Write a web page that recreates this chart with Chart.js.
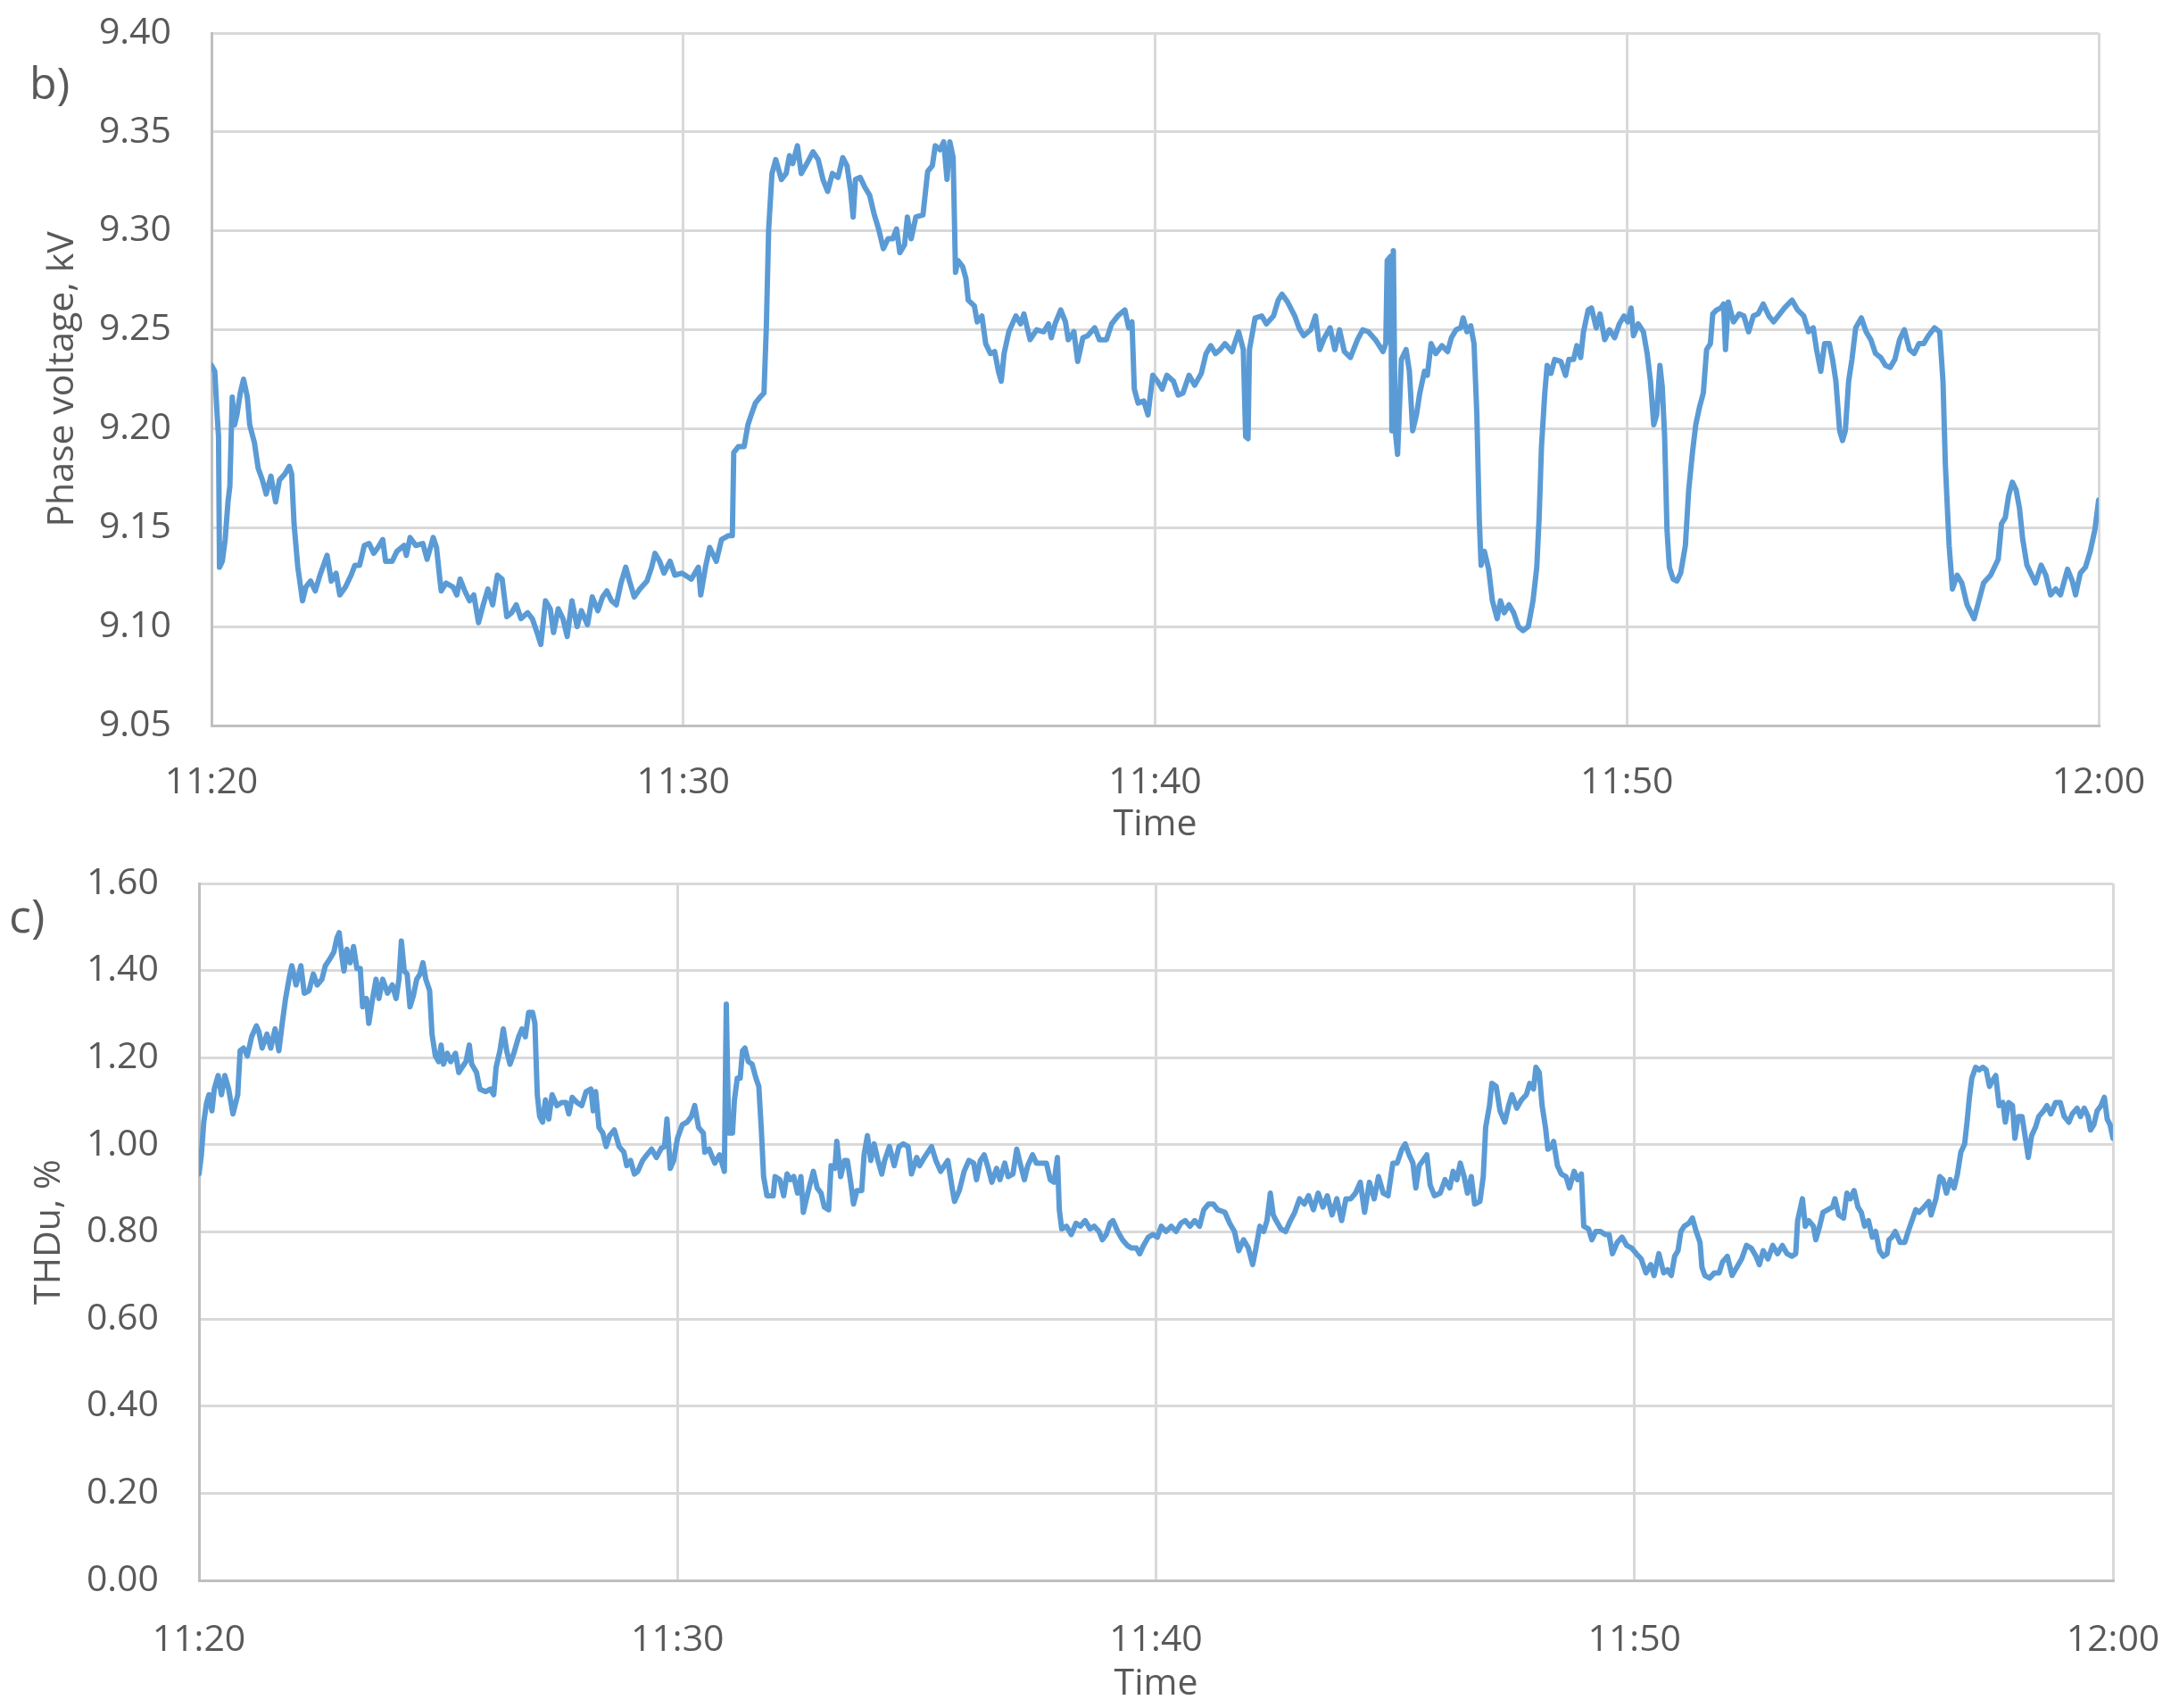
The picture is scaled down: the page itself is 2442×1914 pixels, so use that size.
<!DOCTYPE html>
<html>
<head>
<meta charset="utf-8">
<script src="https://cdn.jsdelivr.net/npm/chart.js@4/dist/chart.umd.min.js"></script>
<style>
  html, body { margin: 0; padding: 0; background: #fff; }
  #wrap { position: relative; width: 2442px; height: 1914px; }
  canvas { position: absolute; left: 0; }
</style>
</head>
<body>
<div id="wrap">
  <canvas id="voltChart" width="2442" height="957" style="top:0"></canvas>
  <canvas id="thdChart" width="2442" height="957" style="top:957px"></canvas>
</div>
<script>
// minutes after 11:20 -> value
const timeLabels = ['11:20', '11:30', '11:40', '11:50', '12:00'];

const voltage = [
  [0, 9.232], [0.07, 9.229], [0.12, 9.207], [0.15, 9.196], [0.17, 9.130], [0.23, 9.133], [0.29, 9.144],
  [0.35, 9.163], [0.39, 9.171], [0.44, 9.216], [0.49, 9.202], [0.54, 9.207], [0.61, 9.218], [0.68, 9.225],
  [0.76, 9.216], [0.81, 9.202], [0.91, 9.193], [0.99, 9.180], [1.08, 9.174], [1.16, 9.167], [1.26, 9.176],
  [1.36, 9.163], [1.44, 9.174], [1.55, 9.177], [1.65, 9.181], [1.70, 9.177], [1.75, 9.152], [1.83, 9.130],
  [1.93, 9.113], [2.00, 9.120], [2.10, 9.123], [2.20, 9.118], [2.30, 9.126], [2.45, 9.136], [2.54, 9.123],
  [2.64, 9.127], [2.72, 9.116], [2.84, 9.120], [2.96, 9.126], [3.04, 9.131], [3.14, 9.131], [3.24, 9.141],
  [3.34, 9.142], [3.44, 9.137], [3.53, 9.140], [3.63, 9.144], [3.69, 9.133], [3.83, 9.133], [3.93, 9.138],
  [4.08, 9.141], [4.13, 9.136], [4.21, 9.145], [4.33, 9.141], [4.48, 9.142], [4.57, 9.134], [4.70, 9.145],
  [4.77, 9.140], [4.84, 9.124], [4.87, 9.118], [4.97, 9.122], [5.12, 9.120], [5.20, 9.116], [5.27, 9.124],
  [5.37, 9.118], [5.47, 9.113], [5.56, 9.116], [5.66, 9.102], [5.76, 9.111], [5.86, 9.119], [5.96, 9.111],
  [6.06, 9.126], [6.16, 9.124], [6.26, 9.105], [6.36, 9.107], [6.46, 9.111], [6.56, 9.104], [6.70, 9.107],
  [6.80, 9.104], [6.90, 9.097], [6.98, 9.091], [7.08, 9.113], [7.18, 9.109], [7.25, 9.097], [7.35, 9.109],
  [7.45, 9.104], [7.54, 9.095], [7.64, 9.113], [7.75, 9.100], [7.84, 9.108], [7.97, 9.101], [8.07, 9.115],
  [8.19, 9.108], [8.29, 9.115], [8.38, 9.118], [8.48, 9.113], [8.58, 9.111], [8.68, 9.122], [8.78, 9.130],
  [8.86, 9.123], [8.96, 9.115], [9.08, 9.119], [9.23, 9.123], [9.33, 9.130], [9.40, 9.137], [9.50, 9.133],
  [9.59, 9.127], [9.72, 9.133], [9.82, 9.126], [9.97, 9.127], [10.17, 9.124], [10.32, 9.130], [10.37, 9.116],
  [10.47, 9.130], [10.56, 9.140], [10.70, 9.133], [10.81, 9.144], [10.96, 9.146], [11.04, 9.146], [11.07, 9.188],
  [11.17, 9.191], [11.29, 9.191], [11.37, 9.202], [11.44, 9.207], [11.53, 9.213], [11.63, 9.216], [11.71, 9.218],
  [11.76, 9.251], [11.81, 9.301], [11.88, 9.329], [11.96, 9.336], [12.08, 9.326], [12.18, 9.329], [12.25, 9.338],
  [12.32, 9.334], [12.42, 9.343], [12.50, 9.329], [12.62, 9.334], [12.75, 9.340], [12.86, 9.336], [12.96, 9.326],
  [13.06, 9.320], [13.16, 9.329], [13.28, 9.327], [13.38, 9.337], [13.47, 9.333], [13.55, 9.320], [13.60, 9.307],
  [13.65, 9.326], [13.75, 9.327], [13.85, 9.322], [13.95, 9.318], [14.05, 9.308], [14.14, 9.301], [14.24, 9.291],
  [14.34, 9.296], [14.44, 9.296], [14.52, 9.301], [14.59, 9.289], [14.69, 9.293], [14.75, 9.307], [14.83, 9.296],
  [14.93, 9.307], [15.08, 9.308], [15.18, 9.330], [15.28, 9.333], [15.34, 9.343], [15.44, 9.341], [15.52, 9.345],
  [15.59, 9.326], [15.65, 9.345], [15.72, 9.337], [15.77, 9.279], [15.82, 9.285], [15.92, 9.282], [15.99, 9.276],
  [16.04, 9.265], [16.17, 9.262], [16.23, 9.254], [16.33, 9.257], [16.41, 9.243], [16.51, 9.238], [16.60, 9.239],
  [16.68, 9.229], [16.74, 9.224], [16.80, 9.238], [16.90, 9.249], [17.05, 9.257], [17.15, 9.253], [17.22, 9.258],
  [17.35, 9.245], [17.49, 9.250], [17.64, 9.249], [17.74, 9.253], [17.80, 9.246], [17.88, 9.253], [18.00, 9.260],
  [18.10, 9.254], [18.16, 9.245], [18.28, 9.249], [18.36, 9.234], [18.47, 9.246], [18.57, 9.247], [18.72, 9.251],
  [18.82, 9.245], [18.97, 9.245], [19.08, 9.253], [19.21, 9.257], [19.36, 9.260], [19.44, 9.251], [19.51, 9.254],
  [19.56, 9.220], [19.64, 9.213], [19.76, 9.214], [19.85, 9.207], [19.95, 9.227], [20.05, 9.224], [20.15, 9.220],
  [20.25, 9.227], [20.39, 9.224], [20.49, 9.217], [20.59, 9.218], [20.72, 9.227], [20.84, 9.222], [20.98, 9.228],
  [21.08, 9.238], [21.18, 9.242], [21.28, 9.238], [21.38, 9.240], [21.48, 9.243], [21.63, 9.239], [21.77, 9.249],
  [21.87, 9.240], [21.92, 9.196], [21.97, 9.195], [22.00, 9.240], [22.12, 9.256], [22.26, 9.257], [22.36, 9.253],
  [22.51, 9.257], [22.61, 9.265], [22.69, 9.268], [22.81, 9.264], [22.96, 9.257], [23.05, 9.251], [23.15, 9.247],
  [23.30, 9.250], [23.40, 9.257], [23.49, 9.240], [23.59, 9.246], [23.71, 9.251], [23.81, 9.240], [23.91, 9.250],
  [24.01, 9.239], [24.14, 9.236], [24.29, 9.245], [24.40, 9.250], [24.52, 9.249], [24.67, 9.245], [24.83, 9.239],
  [24.89, 9.243], [24.92, 9.285], [24.99, 9.287], [25.02, 9.199], [25.05, 9.290], [25.09, 9.199], [25.14, 9.187],
  [25.22, 9.235], [25.32, 9.240], [25.39, 9.229], [25.46, 9.199], [25.54, 9.207], [25.61, 9.218], [25.71, 9.229],
  [25.77, 9.227], [25.85, 9.243], [25.95, 9.238], [26.08, 9.242], [26.20, 9.239], [26.28, 9.246], [26.38, 9.250],
  [26.48, 9.251], [26.53, 9.256], [26.61, 9.249], [26.69, 9.252], [26.76, 9.243], [26.82, 9.207], [26.87, 9.155],
  [26.91, 9.131], [26.98, 9.138], [27.07, 9.129], [27.15, 9.113], [27.25, 9.104], [27.32, 9.113], [27.40, 9.107],
  [27.50, 9.111], [27.60, 9.107], [27.70, 9.100], [27.80, 9.098], [27.91, 9.100], [28.01, 9.113], [28.09, 9.130],
  [28.14, 9.155], [28.19, 9.191], [28.26, 9.218], [28.31, 9.232], [28.39, 9.228], [28.47, 9.235], [28.60, 9.234],
  [28.70, 9.227], [28.77, 9.235], [28.87, 9.235], [28.94, 9.242], [29.02, 9.236], [29.08, 9.249], [29.18, 9.260],
  [29.25, 9.261], [29.35, 9.251], [29.43, 9.258], [29.53, 9.245], [29.63, 9.250], [29.74, 9.246], [29.84, 9.253],
  [29.94, 9.257], [30.02, 9.254], [30.09, 9.261], [30.14, 9.247], [30.24, 9.253], [30.35, 9.249], [30.43, 9.238],
  [30.50, 9.224], [30.57, 9.202], [30.63, 9.207], [30.70, 9.232], [30.75, 9.221], [30.80, 9.196], [30.85, 9.149],
  [30.90, 9.130], [30.98, 9.124], [31.06, 9.123], [31.14, 9.127], [31.24, 9.141], [31.31, 9.169], [31.39, 9.188],
  [31.46, 9.202], [31.54, 9.211], [31.62, 9.218], [31.69, 9.240], [31.77, 9.243], [31.82, 9.258], [31.90, 9.260],
  [31.99, 9.261], [32.05, 9.263], [32.09, 9.240], [32.15, 9.264], [32.26, 9.254], [32.38, 9.258], [32.48, 9.257],
  [32.58, 9.249], [32.68, 9.257], [32.78, 9.258], [32.89, 9.263], [33.01, 9.257], [33.11, 9.254], [33.24, 9.258],
  [33.34, 9.261], [33.50, 9.265], [33.62, 9.260], [33.75, 9.257], [33.85, 9.249], [33.95, 9.251], [34.02, 9.240],
  [34.11, 9.229], [34.19, 9.243], [34.29, 9.243], [34.36, 9.235], [34.43, 9.224], [34.51, 9.199], [34.57, 9.194],
  [34.63, 9.199], [34.70, 9.224], [34.77, 9.235], [34.85, 9.251], [34.97, 9.256], [35.07, 9.249], [35.17, 9.245],
  [35.27, 9.238], [35.38, 9.236], [35.48, 9.232], [35.58, 9.231], [35.68, 9.235], [35.78, 9.245], [35.88, 9.250],
  [35.99, 9.240], [36.09, 9.238], [36.19, 9.243], [36.29, 9.243], [36.39, 9.247], [36.52, 9.251], [36.63, 9.249],
  [36.70, 9.224], [36.75, 9.182], [36.83, 9.141], [36.90, 9.119], [37.00, 9.126], [37.10, 9.122], [37.21, 9.111],
  [37.36, 9.104], [37.46, 9.113], [37.56, 9.122], [37.71, 9.126], [37.87, 9.134], [37.94, 9.152], [38.02, 9.155],
  [38.09, 9.166], [38.17, 9.173], [38.25, 9.169], [38.32, 9.160], [38.39, 9.144], [38.48, 9.131], [38.58, 9.126],
  [38.66, 9.122], [38.78, 9.131], [38.88, 9.126], [38.98, 9.116], [39.09, 9.119], [39.19, 9.116], [39.34, 9.129],
  [39.44, 9.123], [39.51, 9.116], [39.61, 9.127], [39.72, 9.130], [39.82, 9.138], [39.92, 9.149], [40.00, 9.164]
];

const thdu = [
  [0, 0.933], [0.05, 0.977], [0.10, 1.052], [0.16, 1.097], [0.21, 1.115], [0.27, 1.078], [0.32, 1.128],
  [0.40, 1.159], [0.47, 1.115], [0.54, 1.159], [0.62, 1.128], [0.71, 1.071], [0.81, 1.115], [0.86, 1.216],
  [0.93, 1.222], [1.01, 1.204], [1.10, 1.248], [1.20, 1.273], [1.25, 1.260], [1.32, 1.222], [1.42, 1.254],
  [1.50, 1.222], [1.59, 1.266], [1.67, 1.216], [1.74, 1.279], [1.81, 1.336], [1.89, 1.386], [1.94, 1.411],
  [2.03, 1.367], [2.13, 1.411], [2.20, 1.348], [2.30, 1.354], [2.39, 1.392], [2.47, 1.367], [2.57, 1.380],
  [2.64, 1.411], [2.72, 1.424], [2.82, 1.443], [2.88, 1.474], [2.93, 1.487], [2.99, 1.430], [3.03, 1.399],
  [3.09, 1.449], [3.16, 1.418], [3.23, 1.455], [3.30, 1.405], [3.37, 1.405], [3.42, 1.317], [3.50, 1.336],
  [3.55, 1.279], [3.62, 1.330], [3.70, 1.380], [3.76, 1.336], [3.84, 1.380], [3.94, 1.348], [4.04, 1.367],
  [4.12, 1.336], [4.18, 1.380], [4.23, 1.468], [4.29, 1.399], [4.35, 1.392], [4.41, 1.317], [4.48, 1.342],
  [4.55, 1.380], [4.62, 1.392], [4.68, 1.418], [4.74, 1.380], [4.82, 1.354], [4.87, 1.254], [4.94, 1.204],
  [5.01, 1.191], [5.06, 1.229], [5.11, 1.185], [5.19, 1.210], [5.26, 1.191], [5.36, 1.210], [5.43, 1.166],
  [5.50, 1.178], [5.58, 1.191], [5.65, 1.229], [5.70, 1.185], [5.80, 1.166], [5.87, 1.128], [5.99, 1.122],
  [6.09, 1.128], [6.16, 1.115], [6.21, 1.178], [6.29, 1.216], [6.36, 1.266], [6.43, 1.216], [6.50, 1.185],
  [6.58, 1.210], [6.68, 1.248], [6.75, 1.266], [6.82, 1.248], [6.89, 1.304], [6.97, 1.304], [7.02, 1.279],
  [7.07, 1.115], [7.12, 1.065], [7.18, 1.052], [7.24, 1.103], [7.31, 1.059], [7.38, 1.115], [7.48, 1.090],
  [7.58, 1.097], [7.67, 1.097], [7.73, 1.071], [7.80, 1.109], [7.90, 1.097], [8.00, 1.090], [8.09, 1.122],
  [8.19, 1.128], [8.24, 1.078], [8.29, 1.122], [8.36, 1.040], [8.44, 1.027], [8.51, 0.996], [8.58, 1.021],
  [8.68, 1.034], [8.78, 0.996], [8.88, 0.983], [8.94, 0.952], [9.02, 0.964], [9.10, 0.933], [9.17, 0.939],
  [9.27, 0.964], [9.36, 0.977], [9.46, 0.990], [9.56, 0.971], [9.66, 0.992], [9.73, 0.996], [9.78, 1.059],
  [9.85, 0.946], [9.92, 0.964], [10.00, 1.015], [10.10, 1.046], [10.20, 1.052], [10.29, 1.065], [10.36, 1.090],
  [10.44, 1.040], [10.54, 1.027], [10.57, 0.983], [10.66, 0.990], [10.78, 0.958], [10.88, 0.977], [10.98, 0.939],
  [11.02, 1.323], [11.07, 1.027], [11.15, 1.027], [11.19, 1.103], [11.25, 1.153], [11.31, 1.153], [11.36, 1.216],
  [11.41, 1.222], [11.48, 1.191], [11.56, 1.185], [11.64, 1.153], [11.70, 1.134], [11.75, 1.040], [11.80, 0.927],
  [11.87, 0.883], [12.00, 0.883], [12.04, 0.927], [12.14, 0.920], [12.22, 0.883], [12.29, 0.933], [12.36, 0.920],
  [12.43, 0.927], [12.51, 0.889], [12.58, 0.927], [12.63, 0.845], [12.71, 0.883], [12.78, 0.914], [12.84, 0.939],
  [12.92, 0.901], [13.00, 0.889], [13.07, 0.857], [13.16, 0.851], [13.21, 0.952], [13.29, 0.946], [13.33, 1.008],
  [13.41, 0.927], [13.49, 0.964], [13.55, 0.964], [13.62, 0.914], [13.68, 0.864], [13.75, 0.895], [13.85, 0.895],
  [13.90, 0.977], [13.97, 1.021], [14.04, 0.964], [14.11, 1.002], [14.19, 0.964], [14.27, 0.933], [14.33, 0.964],
  [14.43, 0.996], [14.53, 0.952], [14.63, 0.996], [14.72, 1.002], [14.82, 0.996], [14.89, 0.933], [15.00, 0.971],
  [15.06, 0.952], [15.16, 0.971], [15.31, 0.996], [15.40, 0.964], [15.50, 0.939], [15.65, 0.964], [15.74, 0.901],
  [15.79, 0.870], [15.89, 0.895], [15.99, 0.939], [16.09, 0.964], [16.19, 0.958], [16.25, 0.920], [16.33, 0.964],
  [16.41, 0.977], [16.48, 0.952], [16.57, 0.914], [16.67, 0.946], [16.74, 0.920], [16.84, 0.958], [16.91, 0.927],
  [17.01, 0.933], [17.09, 0.990], [17.16, 0.958], [17.25, 0.920], [17.32, 0.952], [17.42, 0.977], [17.50, 0.958],
  [17.59, 0.958], [17.71, 0.958], [17.79, 0.920], [17.87, 0.914], [17.94, 0.971], [17.98, 0.851], [18.03, 0.807],
  [18.13, 0.813], [18.23, 0.794], [18.33, 0.820], [18.42, 0.813], [18.52, 0.826], [18.62, 0.807], [18.71, 0.813],
  [18.81, 0.801], [18.88, 0.782], [18.96, 0.794], [19.04, 0.820], [19.10, 0.826], [19.20, 0.801], [19.30, 0.782],
  [19.40, 0.769], [19.49, 0.763], [19.59, 0.763], [19.66, 0.750], [19.74, 0.769], [19.84, 0.788], [19.94, 0.794],
  [20.03, 0.788], [20.11, 0.813], [20.21, 0.801], [20.32, 0.813], [20.42, 0.801], [20.52, 0.820], [20.61, 0.826],
  [20.71, 0.813], [20.81, 0.826], [20.91, 0.813], [21.00, 0.851], [21.10, 0.864], [21.20, 0.864], [21.29, 0.851],
  [21.44, 0.845], [21.54, 0.820], [21.64, 0.801], [21.73, 0.757], [21.83, 0.782], [21.93, 0.763], [22.02, 0.725],
  [22.09, 0.763], [22.17, 0.813], [22.25, 0.801], [22.32, 0.826], [22.39, 0.889], [22.45, 0.839], [22.51, 0.826],
  [22.61, 0.807], [22.71, 0.801], [22.81, 0.826], [22.90, 0.845], [23.00, 0.876], [23.10, 0.864], [23.19, 0.883],
  [23.29, 0.851], [23.39, 0.889], [23.49, 0.857], [23.58, 0.883], [23.68, 0.839], [23.78, 0.876], [23.88, 0.826],
  [23.97, 0.876], [24.07, 0.876], [24.17, 0.889], [24.27, 0.914], [24.36, 0.845], [24.46, 0.914], [24.56, 0.876],
  [24.65, 0.927], [24.75, 0.889], [24.85, 0.883], [24.95, 0.958], [25.04, 0.958], [25.14, 0.990], [25.21, 1.002],
  [25.29, 0.977], [25.37, 0.958], [25.43, 0.901], [25.50, 0.952], [25.58, 0.964], [25.66, 0.977], [25.73, 0.908],
  [25.82, 0.883], [25.94, 0.889], [26.04, 0.920], [26.14, 0.901], [26.21, 0.939], [26.29, 0.920], [26.36, 0.958],
  [26.44, 0.927], [26.51, 0.889], [26.59, 0.927], [26.66, 0.864], [26.77, 0.870], [26.84, 0.927], [26.89, 1.040],
  [26.97, 1.090], [27.02, 1.141], [27.11, 1.134], [27.19, 1.078], [27.29, 1.052], [27.37, 1.090], [27.44, 1.115],
  [27.54, 1.084], [27.64, 1.103], [27.74, 1.115], [27.81, 1.141], [27.89, 1.128], [27.94, 1.178], [28.01, 1.166],
  [28.07, 1.090], [28.14, 1.040], [28.19, 0.990], [28.27, 0.996], [28.31, 1.008], [28.39, 0.952], [28.47, 0.933],
  [28.57, 0.927], [28.64, 0.901], [28.74, 0.939], [28.81, 0.920], [28.89, 0.933], [28.94, 0.813], [29.04, 0.807],
  [29.11, 0.782], [29.19, 0.801], [29.29, 0.801], [29.39, 0.794], [29.47, 0.794], [29.54, 0.750], [29.64, 0.776],
  [29.74, 0.788], [29.84, 0.769], [29.94, 0.763], [30.04, 0.750], [30.14, 0.738], [30.24, 0.706], [30.34, 0.725],
  [30.41, 0.700], [30.51, 0.750], [30.61, 0.706], [30.69, 0.713], [30.77, 0.700], [30.84, 0.744], [30.91, 0.757],
  [30.97, 0.801], [31.04, 0.813], [31.14, 0.820], [31.21, 0.832], [31.29, 0.801], [31.37, 0.776], [31.41, 0.719],
  [31.47, 0.700], [31.57, 0.694], [31.67, 0.706], [31.77, 0.706], [31.84, 0.731], [31.94, 0.744], [32.04, 0.700],
  [32.14, 0.719], [32.24, 0.738], [32.34, 0.769], [32.44, 0.763], [32.54, 0.744], [32.61, 0.725], [32.69, 0.757],
  [32.79, 0.738], [32.89, 0.769], [32.99, 0.750], [33.09, 0.769], [33.19, 0.750], [33.29, 0.744], [33.37, 0.750],
  [33.41, 0.826], [33.51, 0.876], [33.57, 0.813], [33.64, 0.826], [33.74, 0.813], [33.79, 0.782], [33.87, 0.813],
  [33.94, 0.845], [34.04, 0.851], [34.14, 0.857], [34.19, 0.876], [34.27, 0.839], [34.37, 0.832], [34.44, 0.889],
  [34.51, 0.876], [34.59, 0.895], [34.67, 0.857], [34.74, 0.845], [34.81, 0.813], [34.89, 0.826], [34.97, 0.788],
  [35.04, 0.801], [35.12, 0.757], [35.20, 0.744], [35.28, 0.750], [35.32, 0.782], [35.38, 0.788], [35.45, 0.801],
  [35.55, 0.776], [35.65, 0.776], [35.72, 0.801], [35.80, 0.826], [35.88, 0.851], [35.95, 0.845], [36.05, 0.857],
  [36.15, 0.870], [36.20, 0.839], [36.30, 0.876], [36.38, 0.927], [36.45, 0.920], [36.52, 0.889], [36.60, 0.920],
  [36.68, 0.901], [36.75, 0.933], [36.82, 0.983], [36.90, 1.002], [36.95, 1.052], [37.00, 1.109], [37.05, 1.153],
  [37.13, 1.178], [37.20, 1.172], [37.28, 1.178], [37.35, 1.172], [37.42, 1.134], [37.48, 1.147], [37.55, 1.159],
  [37.62, 1.090], [37.70, 1.097], [37.75, 1.052], [37.82, 1.097], [37.90, 1.090], [37.95, 1.015], [38.02, 1.065],
  [38.10, 1.065], [38.18, 1.008], [38.23, 0.971], [38.30, 1.021], [38.38, 1.040], [38.45, 1.065], [38.55, 1.078],
  [38.62, 1.090], [38.70, 1.071], [38.80, 1.097], [38.90, 1.097], [38.98, 1.065], [39.08, 1.052], [39.15, 1.071],
  [39.25, 1.084], [39.32, 1.065], [39.40, 1.084], [39.48, 1.065], [39.53, 1.034], [39.60, 1.046], [39.67, 1.078],
  [39.75, 1.090], [39.82, 1.109], [39.88, 1.059], [39.94, 1.046], [40.00, 1.015]
];

Chart.defaults.font.family = '"Open Sans", "DejaVu Sans", sans-serif';
Chart.defaults.font.size = 41;
Chart.defaults.color = '#595959';

const lineBlue = '#5B9BD5';
const gridGray = '#D9D9D9';
const axisGray = '#BFBFBF';

// draws the panel letter ("b)", "c)") in the corner
const panelLetter = {
  id: 'panelLetter',
  afterDraw(chart, args, opts) {
    const ctx = chart.ctx;
    ctx.save();
    ctx.font = opts.size + 'px "Open Sans", sans-serif';
    ctx.fillStyle = '#595959';
    ctx.textBaseline = 'alphabetic';
    ctx.fillText(opts.text, opts.x, opts.y);
    ctx.restore();
  }
};

function makeChart(canvasId, points, cfg) {
  return new Chart(document.getElementById(canvasId), {
    type: 'line',
    data: {
      datasets: [{
        data: points.map(p => ({ x: p[0], y: p[1] })),
        borderColor: lineBlue,
        borderWidth: 6,
        borderCapStyle: 'round',
        borderJoinStyle: 'round',
        pointRadius: 0,
        tension: 0,
        fill: false
      }]
    },
    options: {
      responsive: false,
      animation: false,
      events: [],
      layout: { padding: { top: cfg.padTop, right: cfg.padRight, left: 0, bottom: 0 } },
      plugins: {
        legend: { display: false },
        tooltip: { enabled: false },
        panelLetter: cfg.letter
      },
      scales: {
        x: {
          type: 'linear',
          min: 0,
          max: 40,
          afterFit: s => { s.height = cfg.xHeight; },
          ticks: {
            stepSize: 10,
            padding: 0,
            maxRotation: 0,
            callback: v => timeLabels[Math.round(v / 10)]
          },
          // invisible tick marks are used as the gap between axis and labels
          grid: { color: gridGray, lineWidth: 3, drawTicks: true, tickLength: cfg.xTickGap, tickColor: 'rgba(0,0,0,0)' },
          border: { color: axisGray, width: 3 },
          title: { display: true, text: 'Time', padding: { top: 0, bottom: cfg.xTitlePad } }
        },
        y: {
          min: cfg.yMin,
          max: cfg.yMax,
          afterFit: s => { s.width = cfg.yWidth; },
          ticks: {
            stepSize: cfg.yStep,
            padding: 0,
            callback: v => v.toFixed(2)
          },
          grid: { color: gridGray, lineWidth: 3, drawTicks: true, tickLength: 45, tickColor: 'rgba(0,0,0,0)' },
          border: { color: axisGray, width: 3 },
          title: { display: true, text: cfg.yTitle, padding: { top: cfg.yTitlePad, bottom: 0 } }
        }
      }
    },
    plugins: [panelLetter]
  });
}

makeChart('voltChart', voltage, {
  padTop: 37, padRight: 90, xHeight: 144, xTickGap: 40, xTitlePad: 8,
  yMin: 9.05, yMax: 9.40, yStep: 0.05, yWidth: 237, yTitle: 'Phase voltage, kV', yTitlePad: 46,
  letter: { text: 'b)', x: 33, y: 111, size: 50 }
});

makeChart('thdChart', thdu, {
  padTop: 33, padRight: 74, xHeight: 143, xTickGap: 43, xTitlePad: 2,
  yMin: 0, yMax: 1.6, yStep: 0.2, yWidth: 223, yTitle: 'THDu, %', yTitlePad: 31,
  letter: { text: 'c)', x: 10, y: 88, size: 52 }
});
</script>
</body>
</html>
